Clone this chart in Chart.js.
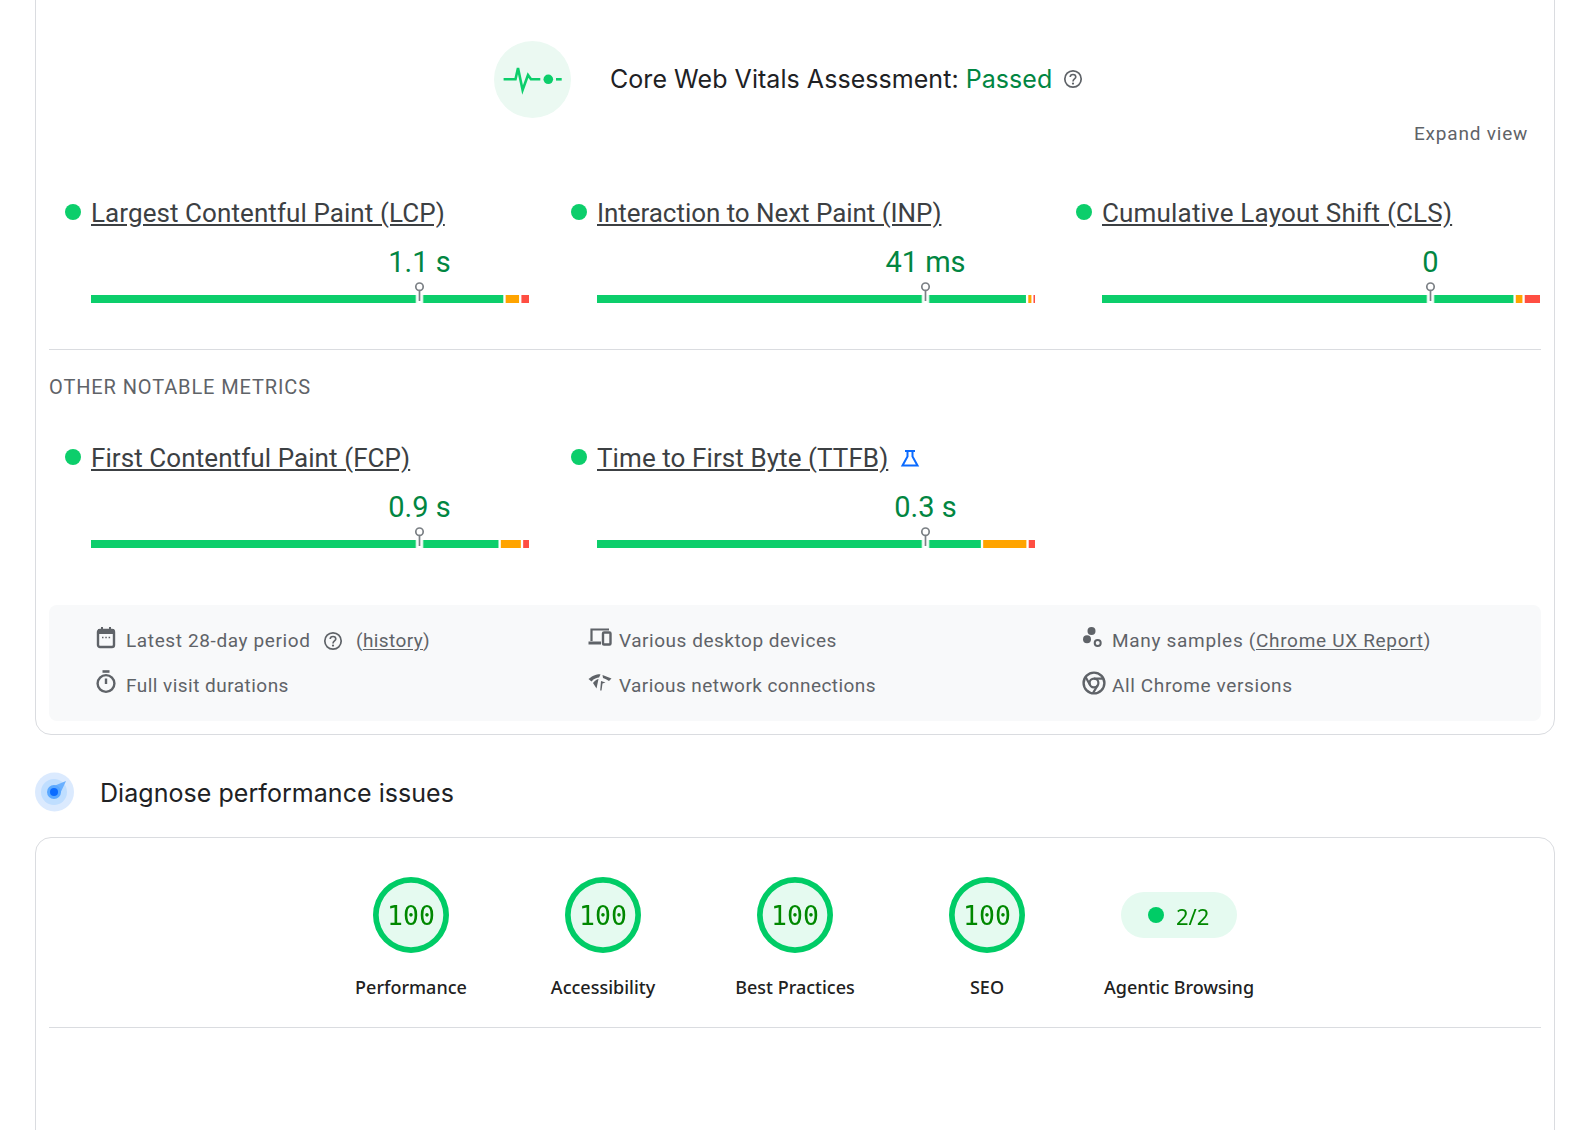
<!DOCTYPE html>
<html>
<head>
<meta charset="utf-8">
<script src="https://cdn.jsdelivr.net/npm/chart.js@4"></script>
<style>
html, body { margin: 0; padding: 0; background: #fff; }
body { width: 1587px; height: 1130px; position: relative; overflow: hidden; font-family: Roboto, sans-serif; color: #5f6368; }
.abs { position: absolute; white-space: nowrap; }
.card { position: absolute; left: 35px; width: 1520px; border: 1px solid #dadce0; border-radius: 16px; box-sizing: border-box; }
.rule { position: absolute; left: 49px; width: 1492px; height: 1px; background: #dadce0; }
.heading { font-family: Inter, sans-serif; font-size: 25px; line-height: 30px; letter-spacing: 0.05px; color: #202124; }
.metric { position: absolute; width: 438px; height: 150px; }
.metric .dot { position: absolute; left: -26px; top: 14px; width: 16px; height: 16px; border-radius: 50%; background: #0cce6b; }
.metric .name { position: absolute; left: 0; top: 8px; font-size: 26px; line-height: 30px; letter-spacing: 0.08px; color: #3c4043; text-decoration: underline; white-space: nowrap; }
.metric .value { position: absolute; left: 328.5px; top: 54px; transform: translateX(-50%); font-size: 29px; line-height: 36px; color: #018642; white-space: nowrap; }
.metric canvas { position: absolute; left: 0; top: 87px; }
.info { font-size: 19px; line-height: 26px; letter-spacing: 0.62px; color: #5f6368; }
.info u { text-underline-offset: 2px; }
.gauge { position: absolute; top: 877px; width: 76px; height: 76px; border-radius: 50%; background: #e5faf0; }
.gauge span { position: absolute; left: 0; right: 0; top: 24px; text-align: center; font-family: "DejaVu Sans Mono", monospace; font-size: 26.5px; line-height: 30px; color: #008800; }
.gauge canvas { position: absolute; left: 0; top: 0; }
.gaugelabel { position: absolute; top: 974px; width: 240px; text-align: center; font-family: "Noto Sans", sans-serif; font-weight: 500; font-size: 18px; line-height: 26px; color: #212121; }
</style>
</head>
<body>

<div class="card" style="top:-40px;height:775px"></div>
<div class="card" style="top:837px;height:400px"></div>

<!-- assessment header -->
<svg class="abs" style="left:494px;top:41px" width="78" height="78" viewBox="494 41 78 78">
  <circle cx="532.5" cy="79.5" r="38.5" fill="#ebf9f2"/>
  <path d="M503.6 79.3H515.5L518 68L522.6 90L528 75L531 79.3H540.3" fill="none" stroke="#0cce6b" stroke-width="2.6"/>
  <circle cx="548.3" cy="79.3" r="4.8" fill="#0cce6b"/>
  <path d="M556 79.3H561.7" stroke="#0cce6b" stroke-width="2.6"/>
</svg>
<div class="abs heading" style="left:610px;top:64px">Core Web Vitals Assessment: <span style="color:#018642">Passed</span></div>
<svg class="abs" style="left:1063px;top:69px" width="20" height="20" viewBox="0 0 20 20">
  <circle cx="10" cy="10" r="8.2" fill="none" stroke="#5f6368" stroke-width="1.7"/>
  <path d="M7.2 8C7.2 4.6 12.8 4.6 12.8 8C12.8 10 10 10 10 12.4" fill="none" stroke="#5f6368" stroke-width="1.6"/>
  <circle cx="10" cy="14.6" r="1.1" fill="#5f6368"/>
</svg>
<div class="abs info" style="left:1414px;top:121px;letter-spacing:0.8px">Expand view</div>

<div class="metric" style="left:91px;top:190px"><div class="dot"></div><div class="name"></div><div class="value"></div><canvas width="438" height="44"></canvas></div>
<div class="metric" style="left:597px;top:190px"><div class="dot"></div><div class="name" style="letter-spacing:-0.05px"></div><div class="value"></div><canvas width="438" height="44"></canvas></div>
<div class="metric" style="left:1102px;top:190px"><div class="dot"></div><div class="name" style="letter-spacing:0.18px"></div><div class="value"></div><canvas width="438" height="44"></canvas></div>

<div class="rule" style="top:349px"></div>
<div class="abs info" style="left:49px;top:374px;font-size:20px;letter-spacing:0.88px">OTHER NOTABLE METRICS</div>

<div class="metric" style="left:91px;top:435px"><div class="dot"></div><div class="name"></div><div class="value"></div><canvas width="438" height="44"></canvas></div>
<div class="metric" style="left:597px;top:435px"><div class="dot"></div><div class="name"></div><div class="value"></div><canvas width="438" height="44"></canvas></div>
<svg class="abs" style="left:900px;top:449px" width="20" height="18" viewBox="0 0 20 18">
  <path d="M5 2H15M7.5 2V7.5L2.5 16.5H17.5L12.5 7.5V2" fill="none" stroke="#0b6bff" stroke-width="2"/>
</svg>

<!-- field data footer -->
<div class="abs" style="left:49px;top:605px;width:1492px;height:116px;background:#f8f9fa;border-radius:8px"></div>
<svg class="abs" style="left:96px;top:626px" width="20" height="23" viewBox="0 0 20 23">
  <rect x="2" y="4" width="16" height="17" rx="2" fill="none" stroke="#5f6368" stroke-width="2.4"/>
  <path d="M2 3H18V8H2ZM5 1H7V4H5ZM13 1H15V4H13Z" fill="#5f6368"/>
  <path d="M6 11.5H7.5M9.3 11.5H10.8M12.6 11.5H14.1" stroke="#5f6368" stroke-width="1.5"/>
</svg>
<div class="abs info" style="left:126px;top:628px">Latest 28-day period</div>
<svg class="abs" style="left:323px;top:631px" width="20" height="20" viewBox="0 0 20 20">
  <circle cx="10" cy="10" r="8.2" fill="none" stroke="#5f6368" stroke-width="1.7"/>
  <path d="M7.2 8C7.2 4.6 12.8 4.6 12.8 8C12.8 10 10 10 10 12.4" fill="none" stroke="#5f6368" stroke-width="1.6"/>
  <circle cx="10" cy="14.6" r="1.1" fill="#5f6368"/>
</svg>
<div class="abs info" style="left:356px;top:628px;letter-spacing:0.4px">(<u>history</u>)</div>

<svg class="abs" style="left:96px;top:670px" width="20" height="24" viewBox="0 0 20 24">
  <path d="M6.5 1.5H13.5" stroke="#5f6368" stroke-width="2.6"/>
  <circle cx="10" cy="13.5" r="8.4" fill="none" stroke="#5f6368" stroke-width="2.4"/>
  <path d="M10 8.5V14" stroke="#5f6368" stroke-width="2.4"/>
</svg>
<div class="abs info" style="left:126px;top:673px;letter-spacing:0.47px">Full visit durations</div>

<svg class="abs" style="left:588px;top:627px" width="24" height="20" viewBox="0 0 24 20">
  <path d="M3.5 14V2.5H21" fill="none" stroke="#5f6368" stroke-width="2.2"/>
  <path d="M0.5 14.5H13V17.5H0.5Z" fill="#5f6368"/>
  <rect x="15" y="5.5" width="7.5" height="12" rx="1" fill="none" stroke="#5f6368" stroke-width="2.4"/>
</svg>
<div class="abs info" style="left:619px;top:628px;letter-spacing:0.53px">Various desktop devices</div>

<svg class="abs" style="left:588px;top:674px" width="24" height="18" viewBox="0 0 24 18">
  <path d="M0.5 5C7 0 11 0 12.5 0.5L11 3.5C9 3.5 6 4.5 3.5 7.5Z M5 9C7 6.5 9.5 5 10.5 5L8.5 14.5Z" fill="#5f6368"/>
  <path d="M14.5 1L23.5 4.5L21 7C19 5.5 17 4.5 15 4Z" fill="#5f6368"/>
  <path d="M13 7L17.5 8.5L14.5 9.5L13.5 16.5L12.2 16.5Z" fill="#5f6368"/>
</svg>
<div class="abs info" style="left:619px;top:673px;letter-spacing:0.43px">Various network connections</div>

<svg class="abs" style="left:1082px;top:626px" width="22" height="22" viewBox="1082 626 22 22">
  <circle cx="1091.5" cy="631" r="4" fill="#5f6368"/>
  <circle cx="1087" cy="639.3" r="4" fill="#5f6368"/>
  <circle cx="1097.7" cy="643" r="3" fill="none" stroke="#5f6368" stroke-width="2"/>
</svg>
<div class="abs info" style="left:1112px;top:628px;letter-spacing:0.69px">Many samples (<u>Chrome UX Report</u>)</div>

<svg class="abs" style="left:1082px;top:671px" width="24" height="24" viewBox="0 0 24 24">
  <circle cx="12" cy="12" r="10.4" fill="none" stroke="#5f6368" stroke-width="2.4"/>
  <circle cx="12" cy="12" r="4.4" fill="none" stroke="#5f6368" stroke-width="2.2"/>
  <path d="M12 7.6H21.5M8.2 14.2L3.6 6M15.8 14.2L11 22" fill="none" stroke="#5f6368" stroke-width="2.2"/>
</svg>
<div class="abs info" style="left:1112px;top:673px">All Chrome versions</div>

<!-- diagnose -->
<svg class="abs" style="left:34px;top:772px" width="40" height="40" viewBox="0 0 40 40">
  <circle cx="20.5" cy="20" r="19.5" fill="#dbeafe"/>
  <circle cx="20" cy="20" r="13" fill="#bfdeff"/>
  <path d="M15 16L32 9L24.5 25Z" fill="#6ab0ff"/>
  <circle cx="20" cy="20" r="7" fill="#5aa8ff"/>
  <circle cx="20" cy="20" r="4" fill="#0b6bff"/>
</svg>
<div class="abs heading" style="left:100px;top:778px">Diagnose performance issues</div>

<div class="gauge" style="left:373px"><canvas width="76" height="76"></canvas><span></span></div>
<div class="gauge" style="left:565px"><canvas width="76" height="76"></canvas><span></span></div>
<div class="gauge" style="left:757px"><canvas width="76" height="76"></canvas><span></span></div>
<div class="gauge" style="left:949px"><canvas width="76" height="76"></canvas><span></span></div>
<div class="gaugelabel" style="left:291px"></div>
<div class="gaugelabel" style="left:483px"></div>
<div class="gaugelabel" style="left:675px"></div>
<div class="gaugelabel" style="left:867px"></div>

<div class="abs" style="left:1121px;top:892px;width:116px;height:46px;border-radius:23px;background:#e5faf0"></div>
<div class="abs" style="left:1148px;top:907px;width:16px;height:16px;border-radius:50%;background:#00cc66"></div>
<div class="abs" id="agentic" style="left:1176px;top:901px;font-family:'Noto Sans',sans-serif;font-size:22px;line-height:30px;color:#008800"></div>
<div class="gaugelabel" id="agenticlabel" style="left:1059px"></div>

<div class="rule" style="top:1027px"></div>

<script>
// metric rows, left to right then second row
var metricNames = ["Largest Contentful Paint (LCP)", "Interaction to Next Paint (INP)", "Cumulative Layout Shift (CLS)", "First Contentful Paint (FCP)", "Time to First Byte (TTFB)"]
var metricValues = ["1.1 s", "41 ms", "0", "0.9 s", "0.3 s"]
var goodShare = [94.4, 98.2, 94.2, 93.3, 87.9]
var needsShare = [3.6, 1.25, 2.05, 5.1, 10.4]
var poorShare = [2.0, 0.55, 3.75, 1.6, 1.7]
var pinAt = [75, 75, 75, 75, 75]

var gaugeNames = ["Performance", "Accessibility", "Best Practices", "SEO"]
var gaugeScores = [100, 100, 100, 100]
var agenticName = "Agentic Browsing"
var agenticScore = "2/2"

var pinPlugin = {
	id: 'pin',
	afterDatasetsDraw: function (chart, args, opts) {
		var c = chart.ctx
		var x = chart.scales.x.getPixelForValue(opts.at)
		var y = chart.scales.y.getPixelForValue(0)
		c.save()
		// gap in the bar round the pin
		c.fillStyle = '#fff'
		c.fillRect(x - 3.8, y - 4, 7.6, 8)
		c.fillStyle = 'rgba(12,206,107,.15)'
		c.fillRect(x - 3.8, y - 4, 7.6, 8)
		c.fillStyle = '#fff'
		c.fillRect(x - 2.2, y - 4, 4.4, 8)
		c.strokeStyle = '#7a7f84'
		c.lineWidth = 1.7
		c.beginPath()
		c.moveTo(x, y - 8.5)
		c.lineTo(x, y + 2)
		c.stroke()
		c.beginPath()
		c.arc(x, y - 12.3, 3.7, 0, Math.PI * 2)
		c.fillStyle = '#fff'
		c.fill()
		c.stroke()
		c.restore()
	}
}

function barChart(canvas, i) {
	function part(val, color, border) {
		return {
			data: [val],
			backgroundColor: color,
			borderColor: '#fff',
			borderWidth: border,
			borderSkipped: false,
			barThickness: 8
		}
	}
	new Chart(canvas.getContext('2d'), {
		type: 'bar',
		plugins: [pinPlugin],
		data: {
			labels: [metricNames[i]],
			datasets: [
				part(goodShare[i], '#0cce6b', { left: 0, right: 1.5, top: 0, bottom: 0 }),
				part(needsShare[i], '#ffa400', { left: 1.5, right: 1.5, top: 0, bottom: 0 }),
				part(poorShare[i], '#ff4e42', { left: 1.5, right: 0, top: 0, bottom: 0 })
			]
		},
		options: {
			indexAxis: 'y',
			responsive: false,
			animation: false,
			layout: { padding: 0 },
			scales: {
				x: { stacked: true, min: 0, max: 100, display: false },
				y: { stacked: true, display: false }
			},
			plugins: {
				legend: { display: false },
				tooltip: { enabled: false },
				pin: { at: pinAt[i] }
			}
		}
	})
}

function gaugeChart(canvas, score) {
	new Chart(canvas.getContext('2d'), {
		type: 'doughnut',
		data: {
			datasets: [{
				data: [score, 100 - score],
				backgroundColor: ['#00cc66', 'rgba(0,0,0,0)'],
				borderWidth: 0
			}]
		},
		options: {
			responsive: false,
			animation: false,
			cutout: '85%',
			plugins: { legend: { display: false }, tooltip: { enabled: false } }
		}
	})
}

var rows = document.querySelectorAll('.metric')
for (var i = 0; i < rows.length; i++) {
	rows[i].querySelector('.name').textContent = metricNames[i]
	rows[i].querySelector('.value').textContent = metricValues[i]
	barChart(rows[i].querySelector('canvas'), i)
}

var gauges = document.querySelectorAll('.gauge')
var labels = document.querySelectorAll('.gaugelabel')
for (var j = 0; j < gauges.length; j++) {
	gauges[j].querySelector('span').textContent = gaugeScores[j]
	labels[j].textContent = gaugeNames[j]
	gaugeChart(gauges[j].querySelector('canvas'), gaugeScores[j])
}
document.getElementById('agentic').textContent = agenticScore
document.getElementById('agenticlabel').textContent = agenticName
</script>
</body>
</html>
